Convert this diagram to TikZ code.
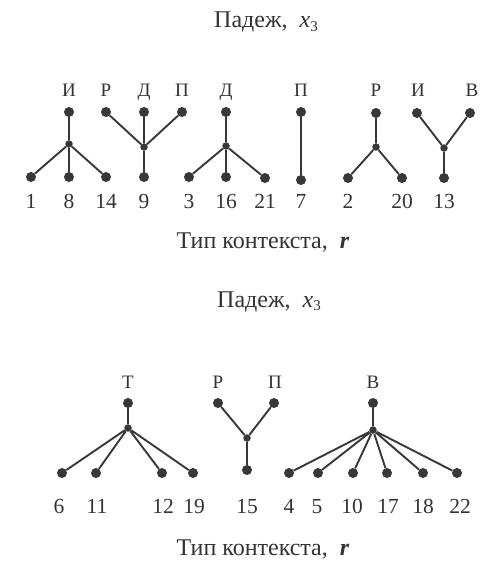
\documentclass[tikz,border=0pt]{standalone}
\usepackage{fontspec}
\setmainfont{Liberation Serif}
\begin{document}
\begin{tikzpicture}[x=1pt,y=-1pt,
  dot/.style={circle,fill=black!78,inner sep=0pt,minimum size=10pt},
  jn/.style={circle,fill=black!78,inner sep=0pt,minimum size=7.5pt},
  edg/.style={line width=1.9pt,draw=black!78},
  lab/.style={anchor=base,text=black!80,inner sep=0pt,font=\fontsize{19}{19}\selectfont},
  num/.style={anchor=base,text=black!80,inner sep=0pt,font=\fontsize{21.5}{21.5}\selectfont},
  ttl/.style={anchor=base,text=black!80,inner sep=0pt,font=\fontsize{24}{24}\selectfont}]
\useasboundingbox[fill=white] (0,0) rectangle (480,564);
% titles
\node[ttl] (title1) at (266,28) {Падеж, \ \textit{x}\raisebox{-0.3ex}{\fontsize{15}{15}\selectfont 3}};
\node[ttl] (axis1) at (263,248) {Тип контекста, \ \textbf{\textit{r}}};
\node[ttl] (title2) at (269,307) {Падеж, \ \textit{x}\raisebox{-0.3ex}{\fontsize{15}{15}\selectfont 3}};
\node[ttl] (axis2) at (263,555) {Тип контекста, \ \textbf{\textit{r}}};
% ---- top row ----
% tree 1
\node[dot] (t1top) at (69,112) {};
\node[jn]  (t1j) at (69,144) {};
\node[dot] (t1a) at (31,177) {};
\node[dot] (t1b) at (69,177) {};
\node[dot] (t1c) at (106,177) {};
\draw[edg] (t1top) -- (t1j) (t1j) -- (t1a) (t1j) -- (t1b) (t1j) -- (t1c);
\node[lab] (l1) at (69,97) {И};
\node[num] (n1) at (31,208) {1};
\node[num] (n8) at (69,208) {8};
\node[num] (n14) at (106,208) {14};
% tree 2
\node[dot] (t2a) at (106,112) {};
\node[dot] (t2b) at (144,112) {};
\node[dot] (t2c) at (182,112) {};
\node[jn]  (t2j) at (144,147) {};
\node[dot] (t2d) at (144,177) {};
\draw[edg] (t2a) -- (t2j) (t2b) -- (t2j) (t2c) -- (t2j) (t2j) -- (t2d);
\node[lab] (l2a) at (106,97) {Р};
\node[lab] (l2b) at (144,97) {Д};
\node[lab] (l2c) at (182,97) {П};
\node[num] (n9) at (144,208) {9};
% tree 3
\node[dot] (t3top) at (226,112) {};
\node[jn]  (t3j) at (226,146) {};
\node[dot] (t3a) at (189,177) {};
\node[dot] (t3b) at (226,177) {};
\node[dot] (t3c) at (265,178) {};
\draw[edg] (t3top) -- (t3j) (t3j) -- (t3a) (t3j) -- (t3b) (t3j) -- (t3c);
\node[lab] (l3) at (226,97) {Д};
\node[num] (n3) at (189,208) {3};
\node[num] (n16) at (226,208) {16};
\node[num] (n21) at (265,208) {21};
% tree 4
\node[dot] (t4top) at (301,112) {};
\node[dot] (t4b) at (301,180) {};
\draw[edg] (t4top) -- (t4b);
\node[lab] (l4) at (301,97) {П};
\node[num] (n7) at (301,208) {7};
% tree 5
\node[dot] (t5top) at (376,113) {};
\node[jn]  (t5j) at (376,147) {};
\node[dot] (t5a) at (348,178) {};
\node[dot] (t5b) at (402,178) {};
\draw[edg] (t5top) -- (t5j) (t5j) -- (t5a) (t5j) -- (t5b);
\node[lab] (l5) at (376,97) {Р};
\node[num] (n2) at (348,208) {2};
\node[num] (n20) at (402,208) {20};
% tree 6
\node[dot] (t6a) at (417,113) {};
\node[dot] (t6b) at (470,113) {};
\node[jn]  (t6j) at (444,148) {};
\node[dot] (t6c) at (444,178) {};
\draw[edg] (t6a) -- (t6j) (t6b) -- (t6j) (t6j) -- (t6c);
\node[lab] (l6a) at (418,97) {И};
\node[lab] (l6b) at (472,97) {В};
\node[num] (n13) at (444,208) {13};
% ---- bottom row ----
% tree B1
\node[dot] (b1top) at (128,403) {};
\node[jn]  (b1j) at (128,428) {};
\node[dot] (b1a) at (62,473) {};
\node[dot] (b1b) at (96,473) {};
\node[dot] (b1c) at (162,473) {};
\node[dot] (b1d) at (193,473) {};
\draw[edg] (b1top) -- (b1j) (b1j) -- (b1a) (b1j) -- (b1b) (b1j) -- (b1c) (b1j) -- (b1d);
\node[lab] (lb1) at (128,388) {Т};
\node[num] (n6) at (59,513) {6};
\node[num] (n11) at (97,513) {11};
\node[num] (n12) at (163,513) {12};
\node[num] (n19) at (194,513) {19};
% tree B2
\node[dot] (b2a) at (218,403) {};
\node[dot] (b2b) at (274,403) {};
\node[jn]  (b2j) at (247,438) {};
\node[dot] (b2c) at (247,470) {};
\draw[edg] (b2a) -- (b2j) (b2b) -- (b2j) (b2j) -- (b2c);
\node[lab] (lb2a) at (218,388) {Р};
\node[lab] (lb2b) at (275,388) {П};
\node[num] (n15) at (247,513) {15};
% tree B3
\node[dot] (b3top) at (373,403) {};
\node[jn]  (b3j) at (373,430) {};
\node[dot] (b3a) at (289,473) {};
\node[dot] (b3b) at (318,473) {};
\node[dot] (b3c) at (353,473) {};
\node[dot] (b3d) at (387,473) {};
\node[dot] (b3e) at (423,473) {};
\node[dot] (b3f) at (457,473) {};
\draw[edg] (b3top) -- (b3j) (b3j) -- (b3a) (b3j) -- (b3b) (b3j) -- (b3c) (b3j) -- (b3d) (b3j) -- (b3e) (b3j) -- (b3f);
\node[lab] (lb3) at (373,388) {В};
\node[num] (n4) at (289,513) {4};
\node[num] (n5) at (317,513) {5};
\node[num] (n10) at (352,513) {10};
\node[num] (n17) at (388,513) {17};
\node[num] (n18) at (423,513) {18};
\node[num] (n22) at (460,513) {22};
\end{tikzpicture}
\end{document}
